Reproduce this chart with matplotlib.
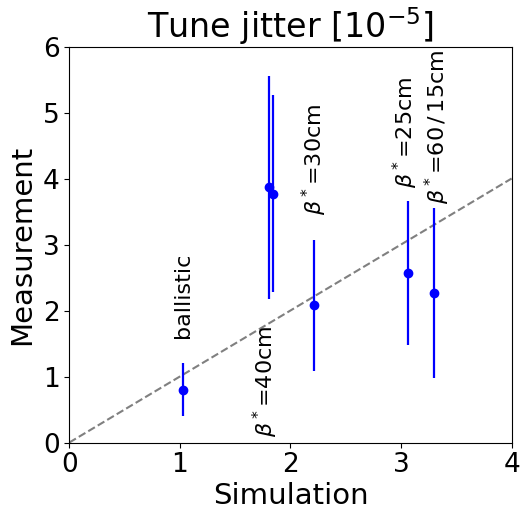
import matplotlib
matplotlib.use("Agg")
import matplotlib.pyplot as plt
import numpy as np

# simulated vs measured tune jitter [1e-5]
sim = [1.03, 1.81, 1.84, 2.21, 3.06, 3.30]
meas = [0.80, 3.87, 3.77, 2.08, 2.57, 2.27]
meas_err = [0.40, 1.69, 1.49, 0.99, 1.09, 1.29]

labels = ["ballistic", r"$\beta^*$=40cm", r"$\beta^*$=30cm", r"$\beta^*$=25cm",
          r"$\beta^*$=60$\,/\,$15cm"]
label_x = [1.03, 1.77, 2.22, 3.04, 3.33]
label_y = [1.58, 0.08, 3.44, 3.85, 3.62]

fig = plt.figure(figsize=(5.21, 5.11), dpi=100)
ax = fig.add_axes([0.133, 0.134, 0.849, 0.775])

ax.plot([0, 4], [0, 4], "--", color="gray", linewidth=1.5)
ax.errorbar(sim, meas, yerr=meas_err, fmt="o", color="blue", markersize=6,
            elinewidth=1.6, capsize=0)

for txt, x, y in zip(labels, label_x, label_y):
    ax.text(x, y, txt, rotation=90, ha="center", va="bottom", fontsize=16)

ax.set_xlim(0, 4)
ax.set_ylim(0, 6)
ax.set_xticks([0, 1, 2, 3, 4])
ax.set_yticks([0, 1, 2, 3, 4, 5, 6])
ax.tick_params(labelsize=19)
ax.set_xlabel("Simulation", fontsize=21, labelpad=3)
ax.set_ylabel("Measurement", fontsize=21, labelpad=5)
ax.set_title(r"Tune jitter [$10^{-5}$]", fontsize=24, pad=4)

fig.savefig("out.png", dpi=100)
